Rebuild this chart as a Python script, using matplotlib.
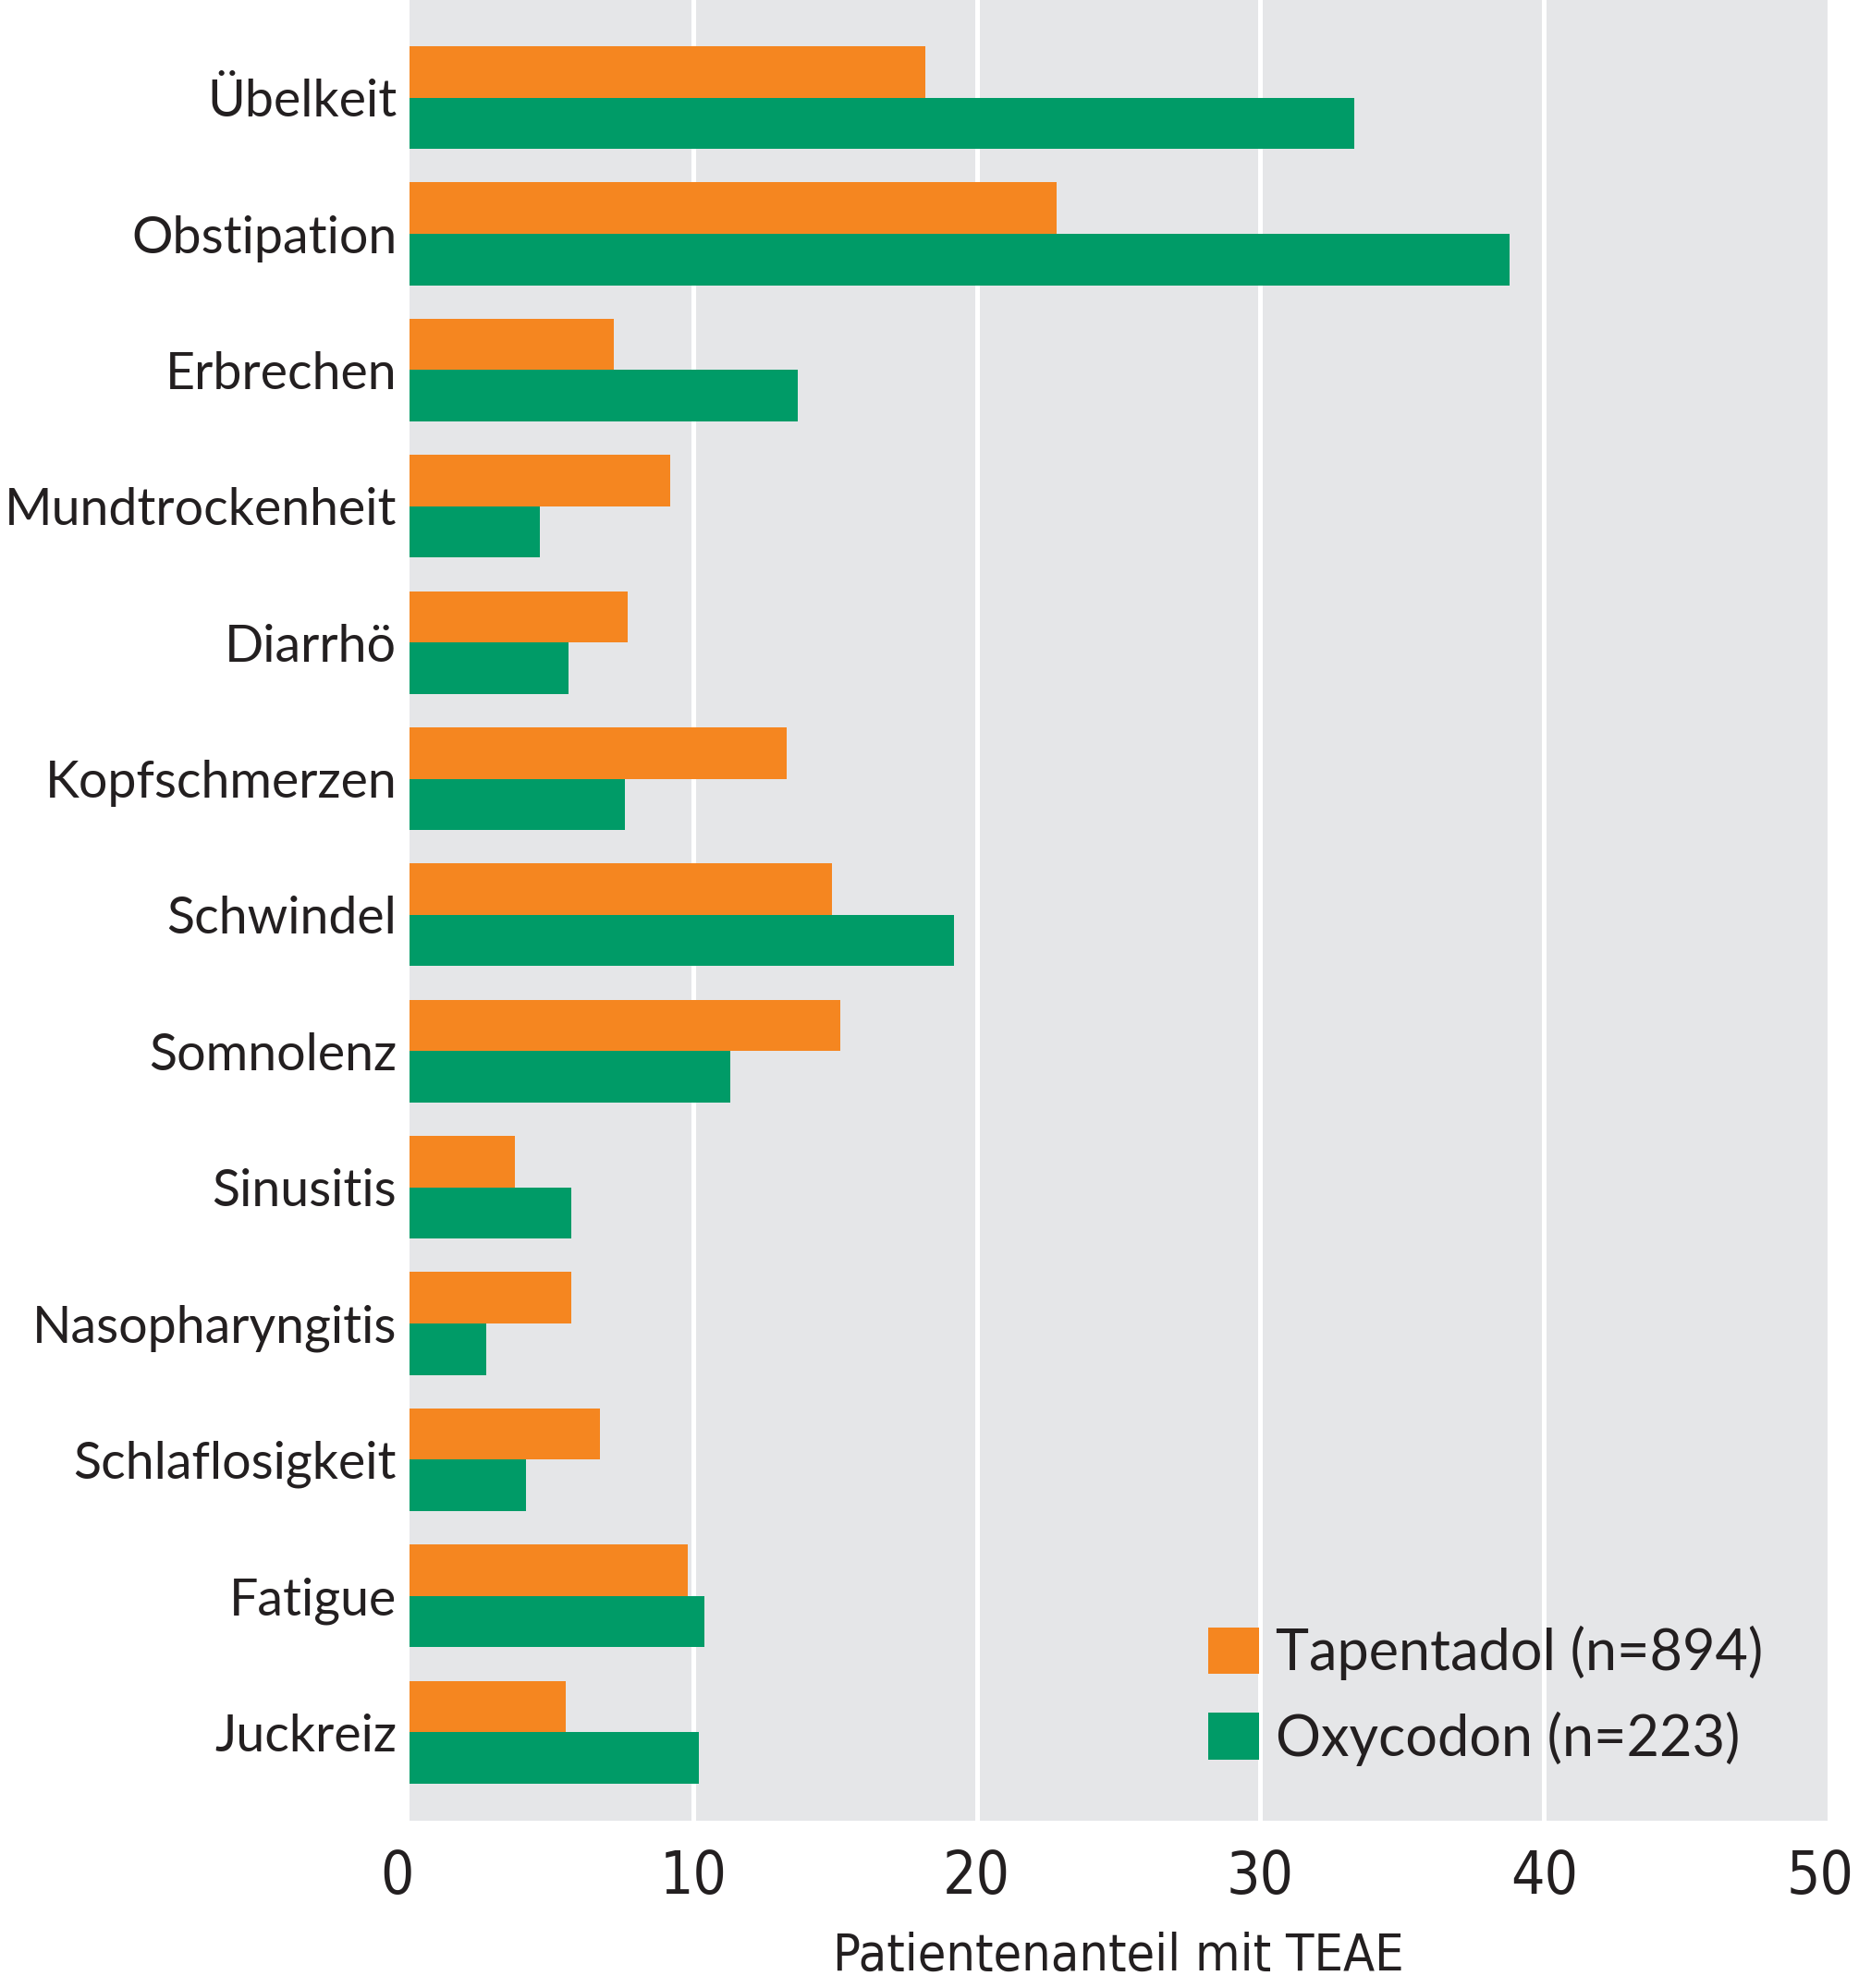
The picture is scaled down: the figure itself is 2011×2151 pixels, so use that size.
import numpy as np
import matplotlib
matplotlib.use('Agg')
import matplotlib.pyplot as plt
import matplotlib.transforms as mtransforms
from matplotlib.patches import Patch

# data
categories = ['Übelkeit', 'Obstipation', 'Erbrechen', 'Mundtrockenheit', 'Diarrhö',
              'Kopfschmerzen', 'Schwindel', 'Somnolenz', 'Sinusitis', 'Nasopharyngitis',
              'Schlaflosigkeit', 'Fatigue', 'Juckreiz']
tapentadol = [18.2, 22.8, 7.2, 9.2, 7.7, 13.3, 14.9, 15.2, 3.7, 5.7, 6.7, 9.8, 5.5]
oxycodon = [33.3, 38.8, 13.7, 4.6, 5.6, 7.6, 19.2, 11.3, 5.7, 2.7, 4.1, 10.4, 10.2]
series_labels = ['Tapentadol (n=894)', 'Oxycodon (n=223)']
xticks = [0, 10, 20, 30, 40, 50]
xlabel = 'Patientenanteil mit TEAE'

orange = '#F58620'
green = '#009B67'
bg = '#E5E6E8'
txt = '#231F20'

fig = plt.figure(figsize=(20.11, 21.51), dpi=100)
ax = fig.add_axes([0.2203, 0.0842, 0.7628, 0.9158])
ax.set_facecolor(bg)

y = np.arange(len(categories))
h = 0.377
ax.barh(y - h/2, tapentadol, height=h, color=orange, zorder=3)
ax.barh(y + h/2, oxycodon, height=h, color=green, zorder=3)

ax.set_xlim(0, 50)
ax.set_ylim(len(categories) - 1 + 0.65, -0.717)
ax.set_xticks(xticks)
ax.set_xticklabels([str(t) for t in xticks], family='DejaVu Sans', fontstretch='condensed',
                   fontsize=46, color=txt)
ax.set_yticks(y)
ax.set_yticklabels(categories, family='Lato', fontsize=40, color=txt)
ax.tick_params(axis='both', length=0)
ax.tick_params(axis='y', pad=10)
ax.tick_params(axis='x', pad=22)
for s in ax.spines.values():
    s.set_visible(False)
for t in xticks[1:-1]:
    ax.axvline(t, color='white', linewidth=3.6, zorder=1)

# nudge the outer labels like the reference ("0" sits left of the axis, "50" at the edge)
labels = ax.get_xticklabels()
labels[0].set_transform(labels[0].get_transform() +
                        mtransforms.ScaledTranslation(-10/72, 0, fig.dpi_scale_trans))
labels[-1].set_transform(labels[-1].get_transform() +
                         mtransforms.ScaledTranslation(-6/72, 0, fig.dpi_scale_trans))

ax.set_xlabel(xlabel, family='DejaVu Sans', fontstretch='condensed', fontsize=40,
              color=txt, labelpad=20)

handles = [Patch(facecolor=orange), Patch(facecolor=green)]
ax.legend(handles, series_labels, loc='lower left', bbox_to_anchor=(0.563, 0.03),
          frameon=False, prop={'family': 'Lato', 'size': 44}, labelcolor=txt,
          handlelength=0.9, handleheight=0.9, handletextpad=0.3,
          labelspacing=0.55, borderpad=0, borderaxespad=0)

fig.savefig('out.png', dpi=100)
